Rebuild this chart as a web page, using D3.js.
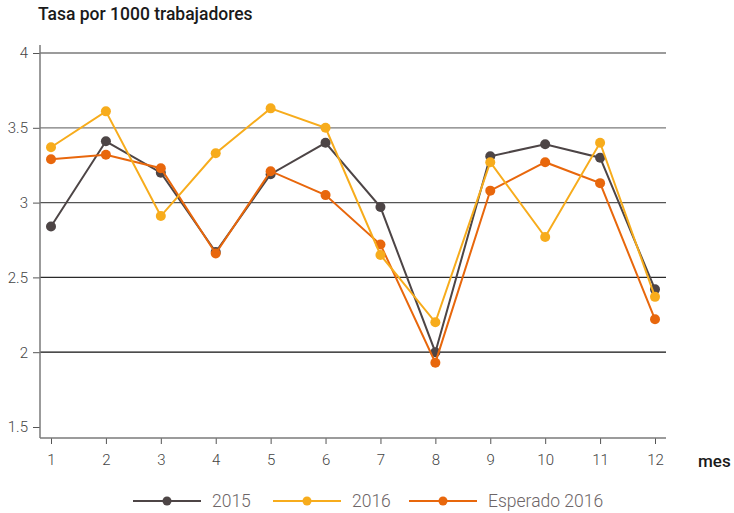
<!DOCTYPE html>
<html><head><meta charset="utf-8">
<script src="https://cdn.jsdelivr.net/npm/d3@7"></script>
<style>body{margin:0;background:#fff}svg{display:block}</style>
</head><body>
<svg id="c" width="734" height="513"></svg>
<script>
const months = [1,2,3,4,5,6,7,8,9,10,11,12];
const s2015 = [2.84,3.41,3.20,2.67,3.19,3.40,2.97,2.00,3.31,3.39,3.30,2.42];
const s2016 = [3.37,3.61,2.91,3.33,3.63,3.50,2.65,2.20,3.27,2.77,3.40,2.37];
const sEsp  = [3.29,3.32,3.23,2.66,3.21,3.05,2.72,1.93,3.08,3.27,3.13,2.22];
const seriesNames = ["2015","2016","Esperado 2016"];
const yTicks = [1.5,2,2.5,3,3.5,4];
const yTickLabels = ["1.5","2","2.5","3","3.5","4"];
const title = "Tasa por 1000 trabajadores";
const xTitle = "mes";

const colors = {"2015":"#4d4546","2016":"#f7ac1c","Esperado 2016":"#e8670c"};
const svg = d3.select("#c");
const x = d3.scaleLinear().domain([1,12]).range([51,655]);
const y = d3.scaleLinear().domain([1.5,4]).range([427,53]);
const pLeft = 40, pRight = 666, pBottom = 438, pTop = 45;
const gridColor = d3.scaleLinear().domain([4,3.5,3,2.5,2]).range(["#7a7a7a","#7a7a7a","#555","#2a2a2a","#111"]);

// gridlines
svg.append("g").selectAll("line").data(yTicks.filter(d=>d>=2)).join("line")
  .attr("x1",pLeft).attr("x2",pRight).attr("y1",d=>y(d)).attr("y2",d=>y(d))
  .attr("stroke",d=>gridColor(d)).attr("stroke-width",1.3);

// y axis
const ya = svg.append("g").attr("transform",`translate(${pLeft},0)`)
  .call(d3.axisLeft(y).tickValues(yTicks).tickFormat((d,i)=>yTickLabels[i]).tickSize(7).tickPadding(5));
ya.select(".domain").remove();
ya.selectAll(".tick line").attr("stroke","#555");
ya.selectAll("text").attr("font-family","Roboto").attr("font-weight",300).attr("font-size",15).attr("fill","#444");
svg.append("line").attr("x1",pLeft).attr("x2",pLeft).attr("y1",pTop).attr("y2",pBottom).attr("stroke","#7a7a7a").attr("stroke-width",1.5);

// x axis
const xa = svg.append("g").attr("transform",`translate(0,${pBottom})`)
  .call(d3.axisBottom(x).tickValues(months).tickFormat(d3.format("d")).tickSize(6).tickPadding(10));
xa.select(".domain").remove();
xa.selectAll(".tick line").attr("stroke","#555");
xa.selectAll("text").attr("font-family","Roboto").attr("font-weight",300).attr("font-size",15).attr("fill","#444");
svg.append("line").attr("x1",pLeft).attr("x2",pRight).attr("y1",pBottom).attr("y2",pBottom).attr("stroke","#7a7a7a").attr("stroke-width",1.5);

// title
svg.append("text").attr("x",38).attr("y",20).text(title)
  .attr("font-family","Roboto").attr("font-weight",500).attr("font-size",17.5).attr("fill","#1a1a1a");
svg.append("text").attr("x",698).attr("y",467).text(xTitle)
  .attr("font-family","Roboto").attr("font-weight",500).attr("font-size",17).attr("fill","#1a1a1a");

// series
const series = [
  {name:"2015", vals:s2015},
  {name:"Esperado 2016", vals:sEsp},
  {name:"2016", vals:s2016}
];
const line = d3.line().x((d,i)=>x(months[i])).y(d=>y(d));
series.forEach(s=>{
  const g = svg.append("g");
  g.append("path").attr("d",line(s.vals)).attr("fill","none").attr("stroke",colors[s.name]).attr("stroke-width",2);
  g.selectAll("circle").data(s.vals).join("circle")
    .attr("cx",(d,i)=>x(months[i])).attr("cy",d=>y(d)).attr("r",5).attr("fill",colors[s.name]);
});

// legend
const legX = [133,273,409];
const lg = svg.append("g");
seriesNames.forEach((n,i)=>{
  const g = lg.append("g").attr("transform",`translate(${legX[i]},501)`);
  g.append("line").attr("x1",0).attr("x2",68).attr("stroke",colors[n]).attr("stroke-width",2);
  g.append("circle").attr("cx",34).attr("r",4.5).attr("fill",colors[n]);
  g.append("text").attr("x",79).attr("y",6).text(n)
    .attr("font-family","Roboto").attr("font-weight",300).attr("font-size",17.5).attr("fill","#6d6567");
});
</script>
</body></html>
